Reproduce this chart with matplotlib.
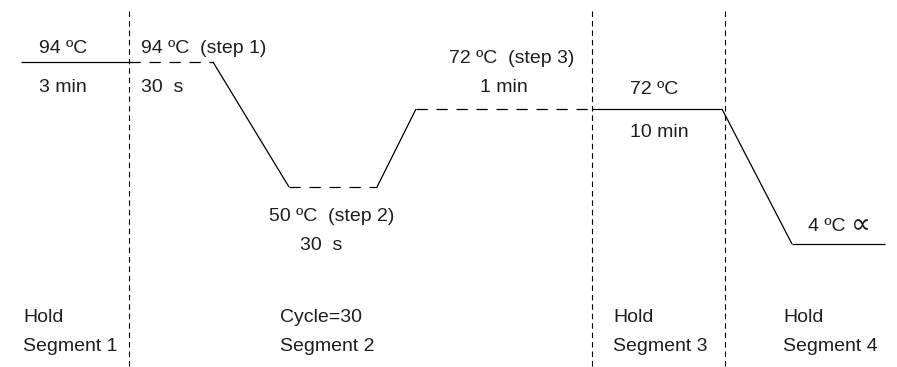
import matplotlib
matplotlib.use("Agg")
import matplotlib.pyplot as plt

# Schematic PCR profile (diagram units: x in px-like units, y level in px-like units, downward)
segment_bounds = [129, 592, 725]
hold1_x = [21, 129];   hold1_y = [62, 62]
step1_x = [129, 213];  step1_y = [62, 62]
ramp_down1_x = [213, 289]; ramp_down1_y = [62, 187]
step2_x = [289, 377];  step2_y = [187, 187]
ramp_up_x = [377, 416]; ramp_up_y = [187, 109]
step3_x = [416, 592];  step3_y = [109, 109]
hold3_x = [592, 722];  hold3_y = [109, 109]
ramp_down2_x = [722, 792]; ramp_down2_y = [109, 244]
hold4_x = [792, 885];  hold4_y = [244, 244]

# labels: (text, x, baseline y, horizontal alignment)
labels = [
    ("94 ºC", 63, 53, "center"),
    ("3 min", 63, 92, "center"),
    ("94 ºC  (step 1)", 141, 53, "left"),
    ("30  s", 141, 92, "left"),
    ("72 ºC  (step 3)", 512, 63, "center"),
    ("1 min", 504, 92, "center"),
    ("72 ºC", 654, 94, "center"),
    ("10 min", 659, 137, "center"),
    ("50 ºC  (step 2)", 332, 221, "center"),
    ("30  s", 321, 250, "center"),
    ("4 ºC", 808, 231, "left"),
    ("Hold", 23, 322, "left"),
    ("Segment 1", 23, 351, "left"),
    ("Cycle=30", 280, 322, "left"),
    ("Segment 2", 280, 351, "left"),
    ("Hold", 613, 322, "left"),
    ("Segment 3", 613, 351, "left"),
    ("Hold", 783, 322, "left"),
    ("Segment 4", 783, 351, "left"),
]
infinity_label = ("∝", 851, 233)

plt.rcParams['font.family'] = ['Liberation Sans', 'DejaVu Sans']
fig = plt.figure(figsize=(8.97, 3.67), dpi=100)
ax = fig.add_axes([0, 0, 1, 1])
ax.set_xlim(0, 897)
ax.set_ylim(367, 0)
ax.axis('off')

lw = 0.9
for bx in segment_bounds:
    ax.plot([bx, bx], [11, 367], color='black', lw=0.8, linestyle=(0, (5, 3.5)))

solid = [(hold1_x, hold1_y), (ramp_down1_x, ramp_down1_y), (ramp_up_x, ramp_up_y),
         (hold3_x, hold3_y), (ramp_down2_x, ramp_down2_y), (hold4_x, hold4_y)]
dashed = [(step1_x, step1_y), (step2_x, step2_y), (step3_x, step3_y)]
for xs, ys in solid:
    ax.plot(xs, ys, color='black', lw=lw, solid_capstyle='butt')
for xs, ys in dashed:
    ax.plot(xs, ys, color='black', lw=lw, linestyle=(0, (9, 7)))

for txt, x, y, ha in labels:
    ax.text(x, y, txt, ha=ha, va='baseline', fontsize=14, color='#1e1e1e')

ax.text(infinity_label[1], infinity_label[2], infinity_label[0], ha='left', va='baseline',
        fontsize=20, color='#1e1e1e', family=['DejaVu Sans'])

fig.savefig('out.png', dpi=100)
